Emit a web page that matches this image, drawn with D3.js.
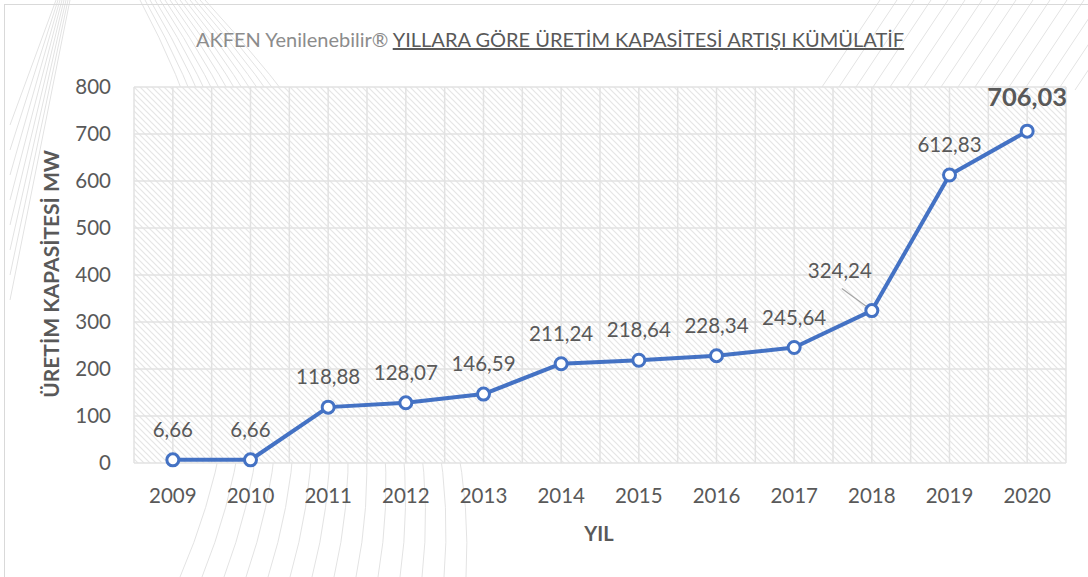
<!DOCTYPE html>
<html lang="tr">
<head>
<meta charset="utf-8">
<title>Üretim Kapasitesi</title>
<script src="https://d3js.org/d3.v7.min.js"></script>
<style>
  body { margin: 0; background: #fff; }
  svg text { font-family: Lato, "Open Sans", sans-serif; fill: #595959; }
</style>
</head>
<body>
<svg id="chart" width="1088" height="577"></svg>
<script>
const years = ["2009","2010","2011","2012","2013","2014","2015","2016","2017","2018","2019","2020"];
const capacity = [6.66, 6.66, 118.88, 128.07, 146.59, 211.24, 218.64, 228.34, 245.64, 324.24, 612.83, 706.03];
const labels = ["6,66","6,66","118,88","128,07","146,59","211,24","218,64","228,34","245,64","324,24","612,83","706,03"];
const yTicks = [0, 100, 200, 300, 400, 500, 600, 700, 800];

const svg = d3.select("#chart");
const margin = {left: 134, right: 22, top: 87, bottom: 114};
const W = 1088, H = 577;
const innerW = W - margin.left - margin.right;
const innerH = H - margin.top - margin.bottom;

// hatch pattern for plot area
const defs = svg.append("defs");
const pat = defs.append("pattern")
    .attr("id", "hatch")
    .attr("patternUnits", "userSpaceOnUse")
    .attr("width", 6).attr("height", 6);
pat.append("rect").attr("width", 6).attr("height", 6).attr("fill", "#fff");
pat.append("path")
    .attr("d", "M-1,-1 L7,7 M-1,5 L1,7 M5,-1 L7,1")
    .attr("stroke", "#e6e6e6").attr("stroke-width", 1.2);

// faint decorative background lines
const deco = svg.append("g").attr("fill", "none").attr("stroke", "#e3e3e3").attr("stroke-width", 1);
for (let i = 0; i < 14; i++) {
  const p = d3.path();
  p.moveTo(180 + i * 22, 577);
  p.quadraticCurveTo(300 + i * 14, 300, 140 + i * 5, 0);
  deco.append("path").attr("d", p.toString());
}
for (let i = 0; i < 16; i++) {
  deco.append("line")
    .attr("x1", 820 + i * 17).attr("y1", 90)
    .attr("x2", 880 + i * 17).attr("y2", 0);
}
for (let i = 0; i < 8; i++) {
  deco.append("line")
    .attr("x1", 10).attr("y1", 300 - i * 25)
    .attr("x2", 70 - i * 2).attr("y2", 0);
}

// chart frame
svg.append("rect")
    .attr("x", 4.5).attr("y", 4.5).attr("width", W + 10).attr("height", H + 10)
    .attr("fill", "none").attr("stroke", "#d9d9d9");

const g = svg.append("g").attr("transform", `translate(${margin.left},${margin.top})`);

const x = d3.scaleBand().domain(years).range([0, innerW]);
const y = d3.scaleLinear().domain([0, 800]).range([innerH, 0]);
const cx = d => x(d) + x.bandwidth() / 2;

g.append("rect").attr("width", innerW).attr("height", innerH).attr("fill", "url(#hatch)");

// gridlines
const grid = g.append("g").attr("stroke", "#e2e2e2").attr("stroke-width", 1.5);
grid.selectAll(".h").data(yTicks).join("line")
    .attr("x1", 0).attr("x2", innerW)
    .attr("y1", d => y(d)).attr("y2", d => y(d));
const vPos = [];
years.forEach(d => { vPos.push(x(d)); vPos.push(cx(d)); });
vPos.push(innerW);
grid.selectAll(".v").data(vPos).join("line")
    .attr("x1", d => d).attr("x2", d => d)
    .attr("y1", 0).attr("y2", innerH);

// axes
const yAxis = g.append("g").call(d3.axisLeft(y).tickValues(yTicks).tickSize(0).tickPadding(23));
yAxis.select(".domain").remove();
yAxis.selectAll("text").style("font-size", "20.5px").attr("fill", "#595959");

const xAxis = g.append("g").attr("transform", `translate(0,${innerH})`)
    .call(d3.axisBottom(x).tickSize(0).tickPadding(25));
xAxis.select(".domain").remove();
xAxis.selectAll("text").style("font-size", "20.5px").attr("fill", "#595959");

// line
const line = d3.line().x((d, i) => cx(years[i])).y(d => y(d));
g.append("path").datum(capacity)
    .attr("d", line).attr("fill", "none")
    .attr("stroke", "#4472C4").attr("stroke-width", 4).attr("stroke-linejoin", "round");

// leader line for 2018 label
g.append("line")
    .attr("x1", cx("2018") - 30).attr("y1", y(capacity[9]) - 22)
    .attr("x2", cx("2018") - 4).attr("y2", y(capacity[9]) - 3)
    .attr("stroke", "#a6a6a6").attr("stroke-width", 1.2);

g.selectAll("circle").data(capacity).join("circle")
    .attr("cx", (d, i) => cx(years[i])).attr("cy", d => y(d))
    .attr("r", 6).attr("fill", "#fff")
    .attr("stroke", "#4472C4").attr("stroke-width", 3);

// data labels
g.selectAll(".lbl").data(capacity).join("text")
    .attr("class", "lbl")
    .attr("text-anchor", "middle")
    .attr("x", (d, i) => i === 9 ? cx(years[i]) - 32 : cx(years[i]))
    .attr("y", (d, i) => i === 9 ? y(d) - 33 : (i === 11 ? y(d) - 25 : y(d) - 23))
    .style("font-size", (d, i) => i === 11 ? "25.5px" : "20.5px")
    .style("font-weight", (d, i) => i === 11 ? "bold" : "normal")
    .attr("fill", "#404040")
    .text((d, i) => labels[i]);

// axis titles
svg.append("text")
    .attr("transform", `translate(59,274) rotate(-90)`)
    .attr("text-anchor", "middle")
    .style("font-size", "21px").style("font-weight", "bold")
    .text("ÜRETİM KAPASİTESİ MW");

svg.append("text")
    .attr("x", margin.left + innerW / 2 - 1).attr("y", 541)
    .attr("text-anchor", "middle")
    .style("font-size", "20px").style("font-weight", "bold")
    .text("YIL");

// title
const title = svg.append("text")
    .attr("x", 550).attr("y", 47)
    .attr("text-anchor", "middle")
    .style("font-size", "20px");
title.append("tspan").attr("fill", "#8c8c8c").text("AKFEN Yenilenebilir® ");
title.append("tspan").attr("fill", "#595959").attr("text-decoration", "underline")
    .text("YILLARA GÖRE ÜRETİM KAPASİTESİ ARTIŞI KÜMÜLATİF");
</script>
</body>
</html>
